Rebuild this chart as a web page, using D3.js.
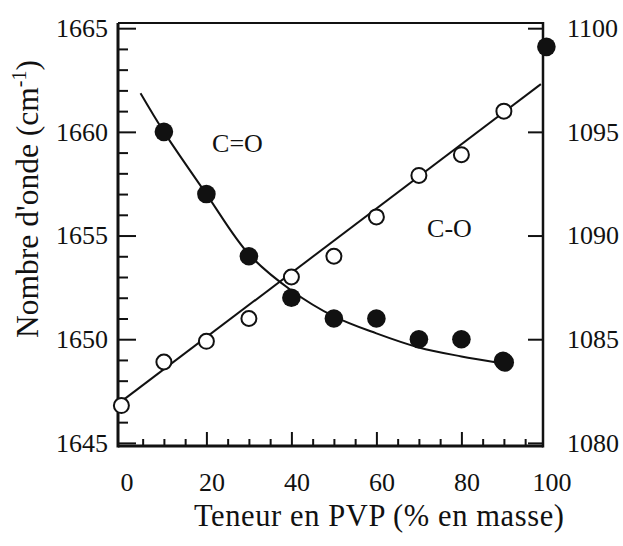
<!DOCTYPE html>
<html><head><meta charset="utf-8">
<script src="https://cdn.jsdelivr.net/npm/d3@7/dist/d3.min.js"></script>
<style>
body{margin:0;background:#fff;}
text{font-family:"Liberation Serif","Times New Roman",serif;fill:#111;}
</style>
</head><body><svg id="c" width="623" height="546"></svg>
<script>
// ---- data ----
const coX = [0, 10, 20, 30, 40, 50, 60, 70, 80, 90];                 // C-O, open circles (right axis)
const coValues = [1081.8, 1083.9, 1084.9, 1086.0, 1088.0, 1089.0, 1090.9, 1092.9, 1093.9, 1096.0];
const ceoX = [10, 20, 30, 40, 50, 60, 70, 80, 89.8, 90.2, 100];     // C=O, filled circles (left axis)
const ceoValues = [1660.0, 1657.0, 1654.0, 1652.0, 1651.0, 1651.0, 1650.0, 1650.0, 1648.96, 1648.88, 1664.1];
const ceoFitX = [4.5, 10, 20, 30, 40, 50, 60, 70, 80, 88];           // fitted curve for C=O
const ceoFitValues = [1661.86, 1660.0, 1657.0, 1654.1, 1652.35, 1651.1, 1650.28, 1649.6, 1649.17, 1648.89];
const coFitX = [0, 98.7];                                            // fitted line for C-O
const coFitValues = [1082.0, 1097.3];
const xTicks = [0, 20, 40, 60, 80, 100];
const xMinorTicks = [5, 10, 15, 25, 30, 35, 45, 50, 55, 65, 70, 75, 85, 90, 95];
const leftTicks = [1645, 1650, 1655, 1660, 1665];
const leftMinorTicks = d3.range(1646, 1665).filter(v => v % 5 !== 0);
const rightTicks = [1080, 1085, 1090, 1095, 1100];
const xTitle = "Teneur en PVP (% en masse)";
const yTitle = "Nombre d'onde (cm";
const labelCeO = "C=O";
const labelCO = "C-O";

// ---- layout ----
const svg = d3.select("#c");
const L = 118, R = 543, T = 23, B = 446;
const x = d3.scaleLinear().domain([-0.8, 99.2]).range([L, R]);
const yL = d3.scaleLinear().domain([1644.85, 1665.25]).range([B, T]);
const yR = d3.scaleLinear().domain([1079.85, 1100.25]).range([B, T]);
const FS = 26, TFS = 30.5;

svg.append("rect").attr("width", 623).attr("height", 546).attr("fill", "#fff");

function styleAxis(g, sw) {
  g.select(".domain").remove();
  g.selectAll("line").attr("stroke", "#111").attr("stroke-width", sw);
  g.selectAll("text").attr("font-size", FS).attr("fill", "#111")
    .attr("font-family", '"Liberation Serif","Times New Roman",serif');
}

// bottom axis
const gxMinor = svg.append("g").attr("transform", `translate(0,${B})`)
  .call(d3.axisBottom(x).tickValues(xMinorTicks).tickSize(-7).tickFormat(""));
styleAxis(gxMinor, 2);
const gx = svg.append("g").attr("transform", `translate(0,${B})`)
  .call(d3.axisBottom(x).tickValues(xTicks).tickSize(-14).tickPadding(27).tickFormat(d3.format("d")));
styleAxis(gx, 2);
gx.selectAll(".tick").filter(d => d === 0 || d === 100).select("line").remove();
gx.selectAll("text").attr("dx", 5);

// left axis
const gyMinor = svg.append("g").attr("transform", `translate(${L},0)`)
  .call(d3.axisLeft(yL).tickValues(leftMinorTicks).tickSize(-10).tickFormat(""));
styleAxis(gyMinor, 2);
const gy = svg.append("g").attr("transform", `translate(${L},0)`)
  .call(d3.axisLeft(yL).tickValues(leftTicks).tickSize(-18).tickPadding(10).tickFormat(d3.format("d")));
styleAxis(gy, 2);

// right axis
const gr = svg.append("g").attr("transform", `translate(${R},0)`)
  .call(d3.axisRight(yR).tickValues(rightTicks).tickSize(-15).tickPadding(24).tickFormat(d3.format("d")));
styleAxis(gr, 2);

// frame
svg.append("line").attr("x1", L).attr("x2", R).attr("y1", T).attr("y2", T).attr("stroke", "#111").attr("stroke-width", 2);
svg.append("line").attr("x1", L).attr("x2", R).attr("y1", B).attr("y2", B).attr("stroke", "#111").attr("stroke-width", 3);
svg.append("line").attr("x1", L).attr("x2", L).attr("y1", T).attr("y2", B + 1.5).attr("stroke", "#111").attr("stroke-width", 3);
svg.append("line").attr("x1", R).attr("x2", R).attr("y1", T - 1).attr("y2", B + 1.5).attr("stroke", "#111").attr("stroke-width", 2.5);

// fit curves
const ceoFit = ceoFitX.map((v, i) => [v, ceoFitValues[i]]);
svg.append("path").datum(ceoFit)
  .attr("d", d3.line().x(d => x(d[0])).y(d => yL(d[1])).curve(d3.curveCatmullRom.alpha(0.5)))
  .attr("fill", "none").attr("stroke", "#111").attr("stroke-width", 2);
const coFit = coFitX.map((v, i) => [v, coFitValues[i]]);
svg.append("path").datum(coFit)
  .attr("d", d3.line().x(d => x(d[0])).y(d => yR(d[1])))
  .attr("fill", "none").attr("stroke", "#111").attr("stroke-width", 2);

// C-O open circles
svg.append("g").selectAll("circle").data(coX.map((v, i) => [v, coValues[i]])).join("circle")
  .attr("cx", d => x(d[0])).attr("cy", d => yR(d[1])).attr("r", 7.5)
  .attr("fill", "#fff").attr("stroke", "#111").attr("stroke-width", 2);

// C=O filled circles
svg.append("g").selectAll("circle").data(ceoX.map((v, i) => [v, ceoValues[i]])).join("circle")
  .attr("cx", d => x(d[0])).attr("cy", d => yL(d[1])).attr("r", 9.3)
  .attr("fill", "#111");

// series labels
svg.append("text").attr("x", 237.5).attr("y", 152).attr("text-anchor", "middle").attr("font-size", FS).text(labelCeO);
svg.append("text").attr("x", 449.5).attr("y", 237).attr("text-anchor", "middle").attr("font-size", FS).text(labelCO);

// axis titles
svg.append("text").attr("x", 379).attr("y", 526).attr("text-anchor", "middle").attr("font-size", TFS)
  .attr("textLength", 370).attr("lengthAdjust", "spacing").text(xTitle);
const yt = svg.append("text").attr("transform", "translate(38,199) rotate(-90)")
  .attr("text-anchor", "middle").attr("font-size", 31.5);
yt.append("tspan").text(yTitle);
yt.append("tspan").attr("font-size", 20).attr("dy", -12).text("-1");
yt.append("tspan").attr("dy", 12).text(")");
</script>
</body></html>
